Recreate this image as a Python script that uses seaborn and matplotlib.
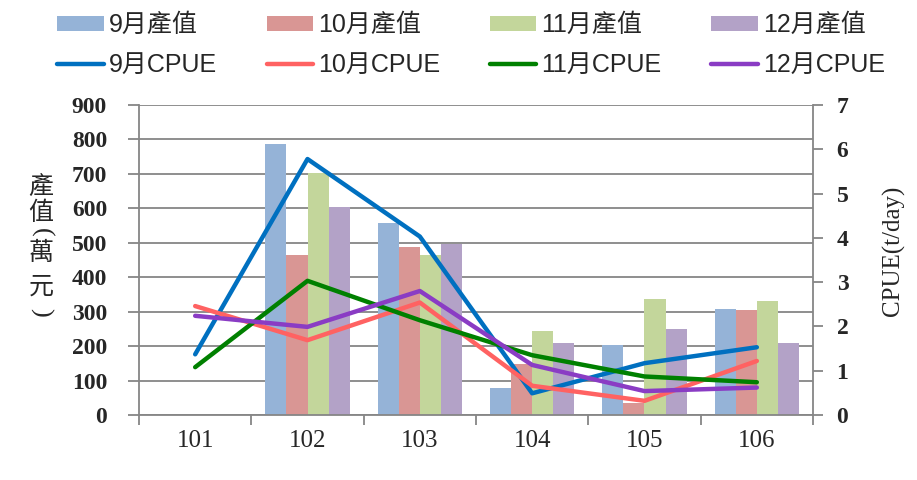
import numpy as np
import pandas as pd
import matplotlib
matplotlib.use("Agg")
import matplotlib.pyplot as plt
from matplotlib.patches import Patch
from matplotlib.lines import Line2D
import seaborn as sns

# ---- data ----
years = ['101', '102', '103', '104', '105', '106']
months = ['9月', '10月', '11月', '12月']
val_9 = [np.nan, 787, 558, 77, 202, 307]
val_10 = [np.nan, 465, 489, 147, 36, 305]
val_11 = [np.nan, 702, 465, 245, 338, 332]
val_12 = [np.nan, 603, 497, 209, 250, 208]
cpue_9 = [1.37, 5.78, 4.03, 0.49, 1.17, 1.53]
cpue_10 = [2.46, 1.69, 2.54, 0.66, 0.32, 1.22]
cpue_11 = [1.08, 3.03, 2.14, 1.35, 0.87, 0.74]
cpue_12 = [2.24, 1.99, 2.80, 1.13, 0.54, 0.62]
left_ticks = [0, 100, 200, 300, 400, 500, 600, 700, 800, 900]
right_ticks = [0, 1, 2, 3, 4, 5, 6, 7]

bar_colors = ['#95B3D7', '#D99694', '#C3D69B', '#B3A2C7']
line_colors = ['#0070C0', '#FF6262', '#008000', '#8A3CC4']

vals = [val_9, val_10, val_11, val_12]
cpues = [cpue_9, cpue_10, cpue_11, cpue_12]

df_bar = pd.DataFrame([
    {'year': y, 'month': m + '產值', 'value': v}
    for m, vs in zip(months, vals) for y, v in zip(years, vs)
])
df_line = pd.DataFrame([
    {'pos': i, 'month': m + 'CPUE', 'cpue': c}
    for m, cs in zip(months, cpues) for i, c in enumerate(cs)
])

sns.set_theme(style="white")
plt.rcParams['font.family'] = ['Liberation Serif', 'Noto Sans CJK TC']

fig = plt.figure(figsize=(9.17, 4.8), dpi=100)
ax = fig.add_axes([139/917, 1-415/480, (813-139)/917, (415-105)/480])

gray = '#868686'
sns.barplot(data=df_bar, x='year', y='value', hue='month', order=years,
            hue_order=[m + '產值' for m in months], palette=bar_colors,
            width=0.75, gap=0, saturation=1, errorbar=None, legend=False,
            linewidth=0, ax=ax)
ax.set_xlim(-0.5, len(years) - 0.5)
ax.set_ylim(0, 900)
ax.set_yticks(left_ticks)
ax.set_axisbelow(True)
ax.yaxis.grid(True, color=gray, linewidth=1.3)
ax.xaxis.grid(False)
ax.set_xlabel('')
ax.set_ylabel('')
ax.set_xticks(range(len(years)))
ax.set_xticklabels(years)
ax.set_xticks(np.arange(-0.5, len(years), 1), minor=True)
ax.tick_params(axis='x', which='major', length=0, pad=11, labelsize=18)
ax.tick_params(axis='x', which='minor', length=7, width=1.3, color=gray, bottom=True)
ax.tick_params(axis='y', which='major', length=8, width=1.3, color=gray, pad=15, left=True)
for lab in ax.get_yticklabels():
    lab.set_fontweight('bold')
    lab.set_fontsize(17)
for s in ['top', 'right']:
    ax.spines[s].set_visible(False)
for s in ['left', 'bottom']:
    ax.spines[s].set_color(gray)
    ax.spines[s].set_linewidth(1.3)

ax2 = ax.twinx()
sns.lineplot(data=df_line, x='pos', y='cpue', hue='month',
             hue_order=[m + 'CPUE' for m in months], palette=line_colors,
             linewidth=3.2, legend=False, ax=ax2, solid_capstyle='round')
ax2.set_ylim(0, 7)
ax2.set_yticks(right_ticks)
ax2.set_xlim(-0.5, len(years) - 0.5)
ax2.set_ylabel('')
ax2.set_xlabel('')
ax2.tick_params(axis='y', which='major', length=7, width=1.3, color=gray, pad=10, right=True)
for lab in ax2.get_yticklabels():
    lab.set_fontweight('bold')
    lab.set_fontsize(17)
for s in ['top', 'left', 'bottom']:
    ax2.spines[s].set_visible(False)
ax2.spines['right'].set_color(gray)
ax2.spines['right'].set_linewidth(1.3)

# vertical stacked y-label: 產值(萬元)
for ch, yy in zip(['產', '值', '萬', '元'], [187, 213, 253, 287]):
    fig.text(41/917, 1-yy/480, ch, ha='center', va='center',
             fontsize=18, family=['Noto Sans CJK TC'], fontweight='light')
for ch, yy in zip(['(', ')'], [232, 312]):
    fig.text(41/917, 1-yy/480, ch, ha='center', va='center', rotation=-90,
             fontsize=19, family=['Liberation Serif'])
fig.text(893/917, 1-251/480, 'CPUE(t/day)', rotation=90, ha='center', va='center',
         fontsize=18, family=['Liberation Serif'])

handles, labels = [], []
for m, bc, lc in zip(months, bar_colors, line_colors):
    handles.append(Patch(facecolor=bc, edgecolor='none'))
    labels.append(m + '產值')
    handles.append(Line2D([0], [0], color=lc, linewidth=3.2, solid_capstyle='round'))
    labels.append(m + 'CPUE')
fig.legend(handles, labels, ncol=4, loc='center', bbox_to_anchor=(471/917, 1-45/480),
           frameon=False, prop={'family': ['Liberation Sans', 'Noto Sans CJK TC'], 'size': 18},
           handlelength=1.85, handleheight=0.55, handletextpad=0.2,
           columnspacing=2.0, labelspacing=0.65, borderpad=0)

fig.savefig('out.png', dpi=100)
